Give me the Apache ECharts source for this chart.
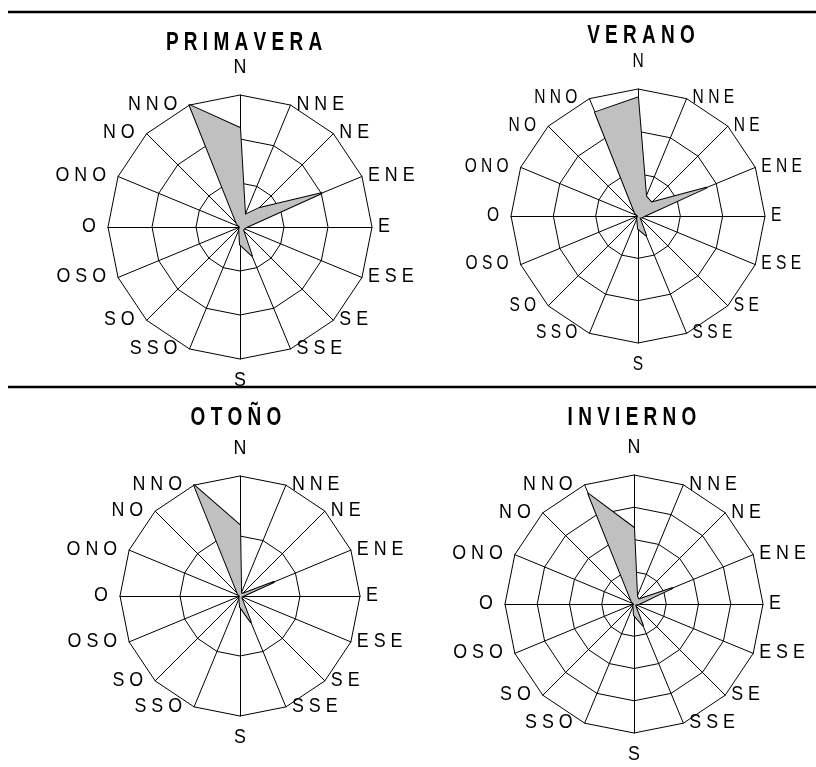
<!DOCTYPE html>
<html>
<head>
<meta charset="utf-8">
<script src="https://cdn.jsdelivr.net/npm/echarts@6/dist/echarts.min.js"></script>
<style>
html,body{margin:0;padding:0;background:#fff;}
#chart{width:816px;height:767px;}
</style>
</head>
<body>
<div id="chart"></div>
<script>
// Directions, clockwise from North
var directions = ['N','NNE','NE','ENE','E','ESE','SE','SSE','S','SSO','SO','OSO','O','ONO','NO','NNO'];
var directionLabels = ['N','N N E','N E','E N E','E','E S E','S E','S S E','S','S S O','S O','O S O','O','O N O','N O','N N O'];

var seasonTitles = ['P R I M A V E R A','V E R A N O','O T O Ñ O','I N V I E R N O'];

// Frequencies per direction (clockwise from N)
var primavera = [22.5, 3, 6, 20, 1.5, 1, 1, 7, 4, 0.5, 0, 0, 0, 0, 1, 30];
var verano    = [28, 5, 4.5, 17.5, 1.5, 1, 0.5, 5, 3, 0.5, 0, 0, 0, 0, 1, 26.5];
var otono     = [11.8, 0.5, 0.5, 6.1, 0.5, 0.3, 0.3, 4.7, 1.8, 0.3, 0, 0, 0, 0, 0.5, 20];
var invierno  = [23.6, 2.5, 2, 12.8, 1.5, 0.5, 0.5, 7.2, 3.5, 0.5, 0, 0, 0, 0, 1, 37];

// Axis maxima and ring counts
var axisMax   = [30, 30, 20, 40];
var ringCount = [3, 3, 2, 4];

var seasonData = [primavera, verano, otono, invierno];

var layouts = [
  {center:[240,227], radius:132, title:[244,43], sx:0.85},
  {center:[638,216], radius:127, title:[641,36], sx:0.74},
  {center:[240,596], radius:120, title:[236,418], sx:0.85},
  {center:[634,604], radius:129, title:[632,418], sx:0.85}
];

var FONT = '"Liberation Sans", Arial, sans-serif';

// ECharts radar goes counter-clockwise: reorder N, NNO, NO, ... NNE
function ccwIndex(i){ return i === 0 ? 0 : 16 - i; }
function ccw(arr){ var out=[]; for(var i=0;i<arr.length;i++) out[ccwIndex(i)] = arr[i]; return out; }

var radars = [], series = [];
for (var k=0;k<4;k++){
  var labs = ccw(directionLabels);
  radars.push({
    center: layouts[k].center,
    radius: layouts[k].radius,
    startAngle: 90,
    shape: 'polygon',
    splitNumber: ringCount[k],
    indicator: labs.map(function(l){ return {name:l, max:axisMax[k], min:0}; }),
    axisName: {show:false},
    splitArea: {show:false},
    splitLine: {lineStyle:{color:'#000', width:1}},
    axisLine: {lineStyle:{color:'#000', width:1}},
    axisTick: {show:false},
    axisLabel: {show:false}
  });
  series.push({
    type:'radar',
    radarIndex:k,
    symbol:'none',
    silent:true,
    lineStyle:{color:'#000', width:2},
    areaStyle:{color:'#c0c0c0', opacity:1},
    data:[{value: ccw(seasonData[k])}]
  });
}

var chart = echarts.init(document.getElementById('chart'), null, {renderer:'canvas'});
chart.setOption({
  backgroundColor:'#fff',
  animation:false,
  radar: radars,
  series: series
});

// Direction names and titles placed from the radar's own coordinate system
var graphics = [];
for (var k=0;k<4;k++){
  var cs = chart.getModel().getComponent('radar', k).coordinateSystem;
  for (var i=0;i<16;i++){
    var p = cs.dataToPoint(axisMax[k], ccwIndex(i));
    var dx = p[0] - cs.cx, dy = p[1] - cs.cy;
    var el = {type:'text', scaleX:layouts[k].sx, style:{text:directionLabels[i], fill:'#000', font:'21px ' + FONT}};
    if (Math.abs(dx) < 1) {
      el.x = p[0];
      el.style.textAlign = 'center';
      if (dy < 0) { el.y = p[1] - 17; el.style.textVerticalAlign = 'bottom'; }
      else { el.y = p[1] + 11; el.style.textVerticalAlign = 'top'; }
    } else if (dx > 0) {
      el.x = p[0] + 6; el.y = p[1] - 1;
      el.style.textAlign = 'left'; el.style.textVerticalAlign = 'middle';
    } else {
      el.x = p[0] - 12; el.y = p[1] - 1;
      el.style.textAlign = 'right'; el.style.textVerticalAlign = 'middle';
    }
    graphics.push(el);
  }
  graphics.push({
    type:'text', x:layouts[k].title[0], y:layouts[k].title[1], scaleX:0.76,
    style:{text:seasonTitles[k], fill:'#000', font:'bold 25px ' + FONT, textAlign:'center', textVerticalAlign:'middle'}
  });
}
graphics.push({type:'line', shape:{x1:8,y1:12,x2:816,y2:12}, style:{stroke:'#000', lineWidth:2.5}});
graphics.push({type:'line', shape:{x1:8,y1:387,x2:816,y2:387}, style:{stroke:'#000', lineWidth:2.5}});

chart.setOption({graphic: graphics});
</script>
</body>
</html>
